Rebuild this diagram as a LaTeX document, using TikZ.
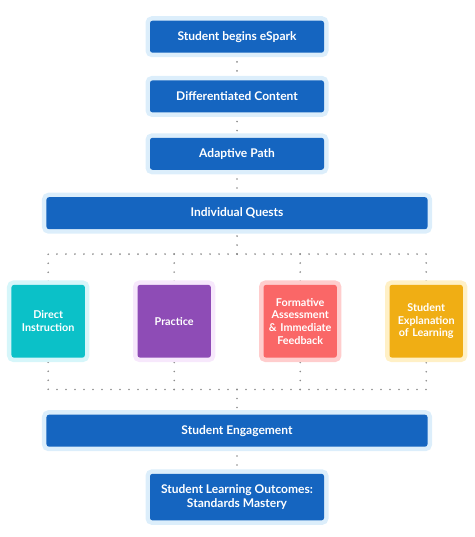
\documentclass[tikz,border=0pt]{standalone}
\usepackage{fontspec}
\setmainfont{Lato}
\usepackage{xcolor}
\usepackage{tikz}
\usetikzlibrary{positioning, backgrounds}
\definecolor{eblue}{HTML}{1565C0}
\definecolor{ebluehalo}{HTML}{DCEEFB}
\definecolor{eteal}{HTML}{0BC1C8}
\definecolor{etealhalo}{HTML}{D6F6FA}
\definecolor{epurple}{HTML}{8E4CB6}
\definecolor{epurplehalo}{HTML}{F7E8FC}
\definecolor{ecoral}{HTML}{FA6767}
\definecolor{ecoralhalo}{HTML}{FFCDCD}
\definecolor{egold}{HTML}{F0AE14}
\definecolor{egoldhalo}{HTML}{FFF0C6}
\definecolor{dotgray}{HTML}{8C8C8C}
\tikzset{
  halo/.style={preaction={draw=#1, line width=9pt}},
  stepbox/.style={rectangle, fill=eblue, halo=ebluehalo, rounded corners=2.5pt,
                  minimum width=174pt, minimum height=32pt, align=center,
                  text=white, font=\bfseries\fontsize{12}{14}\selectfont},
  widebox/.style={stepbox, minimum width=381pt},
  card/.style={rectangle, rounded corners=2.5pt, minimum width=73.4pt,
               minimum height=72.7pt, text width=66pt, align=center,
               text=white, font=\bfseries\fontsize{10.8}{12.6}\selectfont},
  dotline/.style={draw=dotgray, line width=1.8pt, line cap=round,
                  dash pattern=on 0pt off 9pt},
}
\begin{document}
\begin{tikzpicture}[node distance=26pt and 52.2pt]
  \useasboundingbox (-237pt,36.7pt) rectangle (237pt,-500.3pt);

  % Top chain
  \node[stepbox] (begin) at (0,0) {Student begins eSpark};
  \node[stepbox, below=27.3pt of begin] (content) {Differentiated Content};
  \node[stepbox, below=25pt of content] (adaptive) {Adaptive Path};
  \node[widebox, below=27pt of adaptive] (quests) {Individual Quests};
  \coordinate[below=24.7pt of quests] (split);

  % Quest activities
  \node[card, fill=epurple, halo=epurplehalo, below=55.3pt of quests, xshift=-62.8pt] (practice) {Practice};
  \node[card, fill=eteal, halo=etealhalo, left=of practice] (direct) {Direct\\Instruction};
  \node[card, fill=ecoral, halo=ecoralhalo, right=of practice] (formative) {Formative\\Assessment\\\& Immediate\\Feedback};
  \node[card, fill=egold, halo=egoldhalo, right=of formative] (explain) {Student\\Explanation\\of Learning};

  % Bottom chain
  \coordinate[below=31.7pt of practice, xshift=62.8pt] (merge);
  \node[widebox, below=25pt of merge] (engage) {Student Engagement};
  \node[stepbox, minimum height=46.6pt, below=26.7pt of engage] (outcome) {Student Learning Outcomes:\\Standards Mastery};

  % Dotted connectors (behind the boxes)
  \begin{scope}[on background layer]
    \draw[dotline] (begin) -- (content);
    \draw[dotline] (content) -- (adaptive);
    \draw[dotline] (adaptive) -- (quests);
    \draw[dotline] (split) -- (quests);
    \draw[dotline] (split) -| (direct);
    \draw[dotline] (split) -| (explain);
    \draw[dotline] (practice |- split) -- (practice);
    \draw[dotline] (formative |- split) -- (formative);
    \draw[dotline] (merge) -| (direct);
    \draw[dotline] (merge) -| (explain);
    \draw[dotline] (practice |- merge) -- (practice);
    \draw[dotline] (formative |- merge) -- (formative);
    \draw[dotline] (merge) -- (engage);
    \draw[dotline] (engage) -- (outcome);
  \end{scope}
\end{tikzpicture}
\end{document}
